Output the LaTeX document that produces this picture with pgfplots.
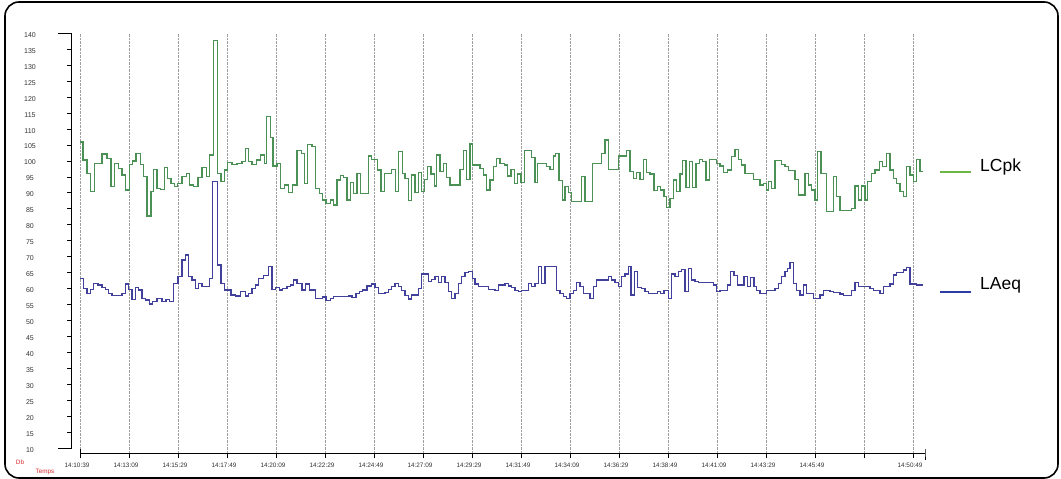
\documentclass[border=0pt]{standalone}
\usepackage{pgfplots}
\pgfplotsset{compat=1.18}
\usepackage{pgfplotstable}
\usepackage{fontspec}
\setmainfont{Liberation Sans}
\definecolor{gline}{RGB}{75,145,85}
\definecolor{gleg}{RGB}{110,182,70}
\definecolor{bline}{RGB}{65,65,155}
\definecolor{bleg}{RGB}{45,60,165}
\definecolor{dbred}{RGB}{215,40,40}

\pgfplotstableread{
u v
0.000 106
0.061 100.3
0.143 96.1
0.211 90.4
0.293 99.3
0.449 102.2
0.551 100.8
0.633 92
0.707 99.3
0.789 97.7
0.857 95.6
0.925 90.9
1.007 98.8
1.075 100
1.143 102.4
1.231 98.8
1.299 95.1
1.367 82.8
1.449 90.4
1.503 97.4
1.571 91.4
1.639 91
1.721 98
1.789 94.6
1.857 93
1.925 92
1.993 93
2.082 95.1
2.170 96
2.238 92.5
2.320 92
2.408 94.9
2.490 98
2.578 95.1
2.646 101.9
2.728 137.7
2.810 96.1
2.878 93.5
2.946 97.2
3.014 99.5
3.102 98.8
3.204 99.3
3.306 99.8
3.374 104
3.442 99.8
3.510 98.8
3.599 100.3
3.680 101.9
3.762 99.3
3.803 113.9
3.884 107.4
3.939 98.4
4.020 99.3
4.088 91.4
4.170 92.5
4.259 90.1
4.340 92.5
4.429 103.2
4.517 102.4
4.578 93
4.646 105.2
4.735 104.5
4.803 91.4
4.884 89.9
4.952 87.8
5.020 86.7
5.109 87.8
5.177 86.2
5.245 94
5.313 95.4
5.381 94.9
5.449 87.8
5.517 93.2
5.585 89.9
5.653 96
5.721 89.9
5.884 101.6
5.952 100.5
6.075 97.2
6.143 90.4
6.211 96.1
6.361 97.4
6.442 90.4
6.497 102.9
6.578 96.1
6.633 94.6
6.701 87.6
6.769 95.6
6.837 90.1
6.905 96.3
6.973 90.4
7.027 94.2
7.095 98.2
7.163 95.9
7.231 92.2
7.279 101.9
7.347 96.6
7.415 99.3
7.483 94.9
7.551 92.5
7.755 97.4
7.823 103.2
7.891 94.2
7.959 105.3
8.007 98.7
8.163 97.7
8.231 95.6
8.299 90.9
8.367 94.0
8.435 98.2
8.503 100.8
8.571 99.3
8.660 98.7
8.728 95.3
8.796 97.4
8.864 93
8.932 95.9
9.000 93.2
9.068 103.2
9.218 101.1
9.286 93.2
9.340 99.3
9.524 98.2
9.592 97.4
9.660 101.6
9.707 102.4
9.776 93.8
9.844 87.8
9.898 91.9
9.966 90.1
10.034 87.2
10.238 95.1
10.306 87.2
10.463 99.3
10.646 102.4
10.714 106.6
10.782 97.4
10.986 101.6
11.156 103.2
11.224 96.6
11.293 94.6
11.361 96.3
11.429 94.2
11.497 100.5
11.565 96.3
11.633 95.9
11.714 90.7
11.782 91.9
11.850 90.9
11.918 88.8
11.973 85.5
12.041 88.3
12.109 94.0
12.177 90.4
12.245 95.9
12.299 100.1
12.367 91.7
12.435 99.8
12.503 91.7
12.571 99.3
12.639 100.5
12.707 99.8
12.776 94
12.844 100.5
12.993 99.3
13.061 98.4
13.129 96.3
13.211 97.2
13.299 101.4
13.367 103.7
13.435 100.5
13.503 98.7
13.571 96.1
13.741 94.2
13.878 92.5
13.946 93
14.014 90.9
14.048 93.5
14.116 91.4
14.184 100.1
14.320 99
14.388 98.2
14.456 97.1
14.592 94.2
14.660 89.3
14.796 96.1
14.864 92.5
14.932 90.9
15.000 87.8
15.054 102.9
15.122 96.1
15.238 84.1
15.374 95.1
15.442 88.8
15.510 84.4
15.748 85.2
15.816 92.2
15.884 87.8
15.952 92.2
16.020 87.8
16.068 93.5
16.156 96.1
16.224 97.2
16.313 99.8
16.381 98.2
16.463 102.4
16.531 97.2
16.599 94.6
16.667 93
16.735 90.4
16.803 88.8
16.871 98.2
16.939 95.6
17.007 93.5
17.075 100.5
17.143 96.6
17.210 96.6
}\lcpk

\pgfplotstableread{
u v
0.000 63.2
0.075 60.1
0.143 58.5
0.211 59.8
0.279 61.7
0.367 61.1
0.449 60.4
0.517 59.8
0.585 58.5
0.653 57.8
0.857 58.5
0.925 61.4
0.993 59.8
1.061 56.6
1.129 60.4
1.197 59.6
1.265 57
1.333 56.4
1.415 55.2
1.483 55.9
1.571 57
1.673 55.9
1.755 56.6
1.823 55.9
1.912 61.7
2.000 63.7
2.082 69
2.150 70.5
2.218 63.7
2.286 62.7
2.354 60.1
2.422 61.7
2.490 60.6
2.639 63.2
2.707 93.5
2.810 67.4
2.878 61.7
2.946 59.6
3.082 58
3.170 57.7
3.272 59
3.374 57.7
3.442 58.5
3.510 60.1
3.578 61.1
3.646 63.2
3.748 64
3.850 66.9
3.918 59.8
3.986 60.4
4.068 59.6
4.136 60
4.224 60.6
4.293 61.1
4.361 62.7
4.429 61.7
4.531 59.6
4.599 61.4
4.680 59.6
4.803 57
4.952 57.4
5.020 56.2
5.109 57
5.177 57.5
5.483 57.7
5.551 57.3
5.633 58.5
5.701 59
5.769 59.6
5.857 60.8
5.952 61.4
6.020 60.4
6.088 58.5
6.224 58.8
6.293 59.8
6.361 60.6
6.429 61.6
6.497 60.6
6.565 59.5
6.633 57.8
6.701 56.7
6.769 58
6.905 60.1
6.973 64.6
7.109 62.2
7.177 62.9
7.245 63.7
7.313 61.9
7.381 63.7
7.449 61.9
7.517 59
7.585 56.9
7.653 58.5
7.721 61.6
7.789 63.7
7.857 65
7.925 65.3
8.007 63.2
8.061 61.4
8.129 60.6
8.333 59.8
8.469 59.5
8.537 61.1
8.673 61.6
8.741 60.8
8.810 60.4
8.878 59.5
8.946 59
9.014 59.5
9.150 61.6
9.218 60.6
9.286 61.6
9.354 66.9
9.422 61.6
9.490 66.9
9.728 59.5
9.796 58.5
9.864 57.5
9.932 57
10.000 58.5
10.068 59.5
10.136 61.9
10.204 60.6
10.272 58.5
10.408 56.9
10.476 60.6
10.544 62.7
10.782 63.7
10.850 62.7
10.918 61.9
10.986 60.6
11.054 63.7
11.122 64.6
11.190 66.9
11.245 58
11.313 65.3
11.381 60.4
11.463 60.1
11.531 59
11.599 58.5
11.714 58.5
11.782 59
11.850 58.5
11.918 59.5
12.007 56.9
12.075 64.6
12.143 63.7
12.211 65.3
12.279 66
12.347 59
12.415 66.3
12.483 62.7
12.551 62.2
12.619 61.9
12.925 61.1
12.993 59
13.061 59.5
13.211 61.1
13.279 65.3
13.347 64
13.415 61.1
13.551 63.7
13.619 60.6
13.687 63.5
13.755 60.6
13.810 59.5
13.878 58.5
14.014 59.5
14.184 60.1
14.252 61.6
14.320 63.7
14.388 65.3
14.435 66.3
14.490 68.1
14.558 61.6
14.626 59.5
14.694 58
14.762 61.1
14.830 58.5
14.966 56.9
15.102 58
15.170 59.5
15.306 59
15.374 58.7
15.510 58.3
15.578 57.8
15.748 59.5
15.816 61.9
15.884 60.6
16.122 60.1
16.190 59.5
16.327 58.5
16.395 60.6
16.531 61.4
16.599 64.3
16.667 65
16.803 65.8
16.871 66.7
16.939 61.4
17.075 61.1
17.210 61.1
}\laeq

\begin{document}
\begin{tikzpicture}[x=1pt,y=1pt]
\useasboundingbox (-72,-25) rectangle (989,454);
\begin{axis}[
  at={(0,0)}, anchor=south west,
  scale only axis,
  width=853pt, height=420.6pt,
  xmin=-0.1633, xmax=17.245,
  ymin=8.15, ymax=140,
  axis line style={draw=none},
  xtick={0,...,17},
  xticklabels={14:10:39,14:13:09,14:15:29,14:17:49,14:20:09,14:22:29,14:24:49,14:27:09,14:29:29,14:31:49,14:34:09,14:36:29,14:38:49,14:41:09,14:43:29,14:45:49,{},14:50:49},
  ytick={10,15,...,140},
  xtick pos=bottom, ytick pos=left,
  tick align=outside,
  major tick length=4.5pt,
  tick style={black, line width=0.8pt},
  xmajorgrids,
  grid style={densely dotted, gray!75, line width=0.6pt},
  /pgf/number format/assume math mode=true,
  xticklabel style={font=\fontsize{6.4}{7}\selectfont, text=black!80, xshift=-3pt, yshift=-1pt},
  yticklabel style={font=\fontsize{7}{8}\selectfont, text=black!80, anchor=center, xshift=-37.5pt, yshift=-1.5pt},
  clip=false,
]
\addplot[const plot, color=gline, line width=1.3pt] table[x=u,y=v] {\lcpk};
\addplot[const plot, color=bline, line width=1.3pt] table[x=u,y=v] {\laeq};
% axis lines
\draw[line width=1pt] (axis cs:-0.1633,10) -- (axis cs:-0.1633,140);
\draw[line width=1pt] (axis cs:-0.1633,140) -- ++(-14pt,0pt);
\draw[line width=1pt] (axis cs:-0.1633,10) -- ++(-14pt,0pt);
\draw[line width=1pt] (axis cs:0,9.72) -- (axis cs:0,8.15) -- (axis cs:17.245,8.15);
\draw[line width=1pt] (axis cs:17.245,9.72) -- (axis cs:17.245,8.15) -- ++(0pt,-6pt);
\end{axis}
% legend
\draw[gleg, line width=2pt] (868,282) -- (899,282);
\node[anchor=west, inner sep=0pt, font=\fontsize{17.5}{20}\selectfont] at (908,287.5) {LCpk};
\draw[bleg, line width=2pt] (868,162) -- (899,162);
\node[anchor=west, inner sep=0pt, font=\fontsize{17.5}{20}\selectfont] at (908,168.5) {LAeq};
% Db / Temps
\node[text=dbred, font=\fontsize{6.3}{7}\selectfont, inner sep=0pt] at (-52,-8) {Db};
\node[text=dbred, font=\fontsize{6.3}{7}\selectfont, inner sep=0pt] at (-27,-18) {Temps};
% frame
\draw[line width=1.6pt, rounded corners=14pt] (-67,452) rectangle (986,-24);
\end{tikzpicture}
\end{document}
